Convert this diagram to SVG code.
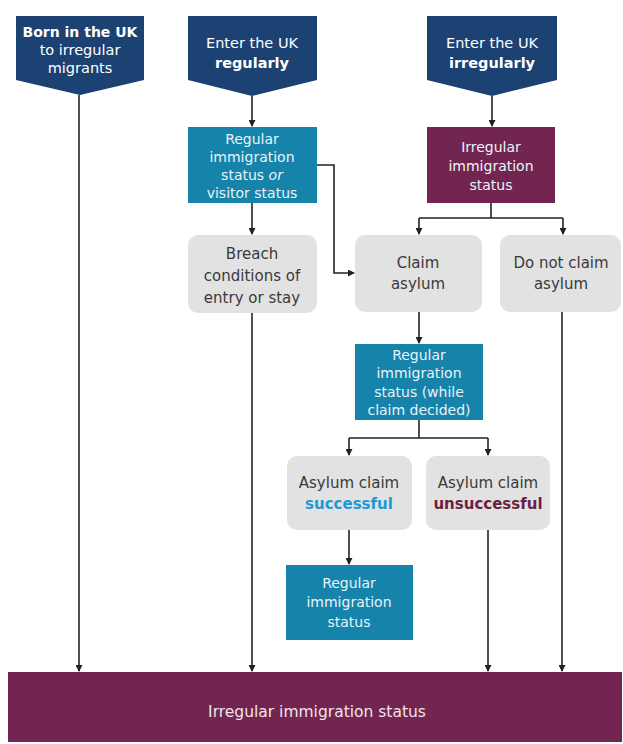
<svg xmlns="http://www.w3.org/2000/svg" width="623" height="744" viewBox="0 0 623 744">
<style>
.navy{fill:#1b4273}
.teal{fill:#1583aa}
.maroon{fill:#722550}
.grey{fill:#e2e2e2}
text{font-family:"DejaVu Sans","Liberation Sans",sans-serif;text-anchor:middle}
.wt{fill:#ffffff;font-size:14.5px}
.tt{fill:#e8f4f8;font-size:14px}
.gt{fill:#3a3a3a;font-size:15px}
.b{font-weight:bold}
.con{fill:none;stroke:#222222;stroke-width:1.6}
</style>
<defs>
<marker id="arr" markerUnits="userSpaceOnUse" markerWidth="7" markerHeight="7" refX="6" refY="3.5" orient="auto">
<path d="M0,0 L7,3.5 L0,7 z" fill="#222222"/>
</marker>
</defs>
<rect width="623" height="744" fill="#ffffff"/>

<g id="born">
<polygon class="navy" points="16,16 144,16 144,80 80,95 16,80"/>
<text class="wt b" x="80" y="37" font-size="14px" style="font-size:14px">Born in the UK</text>
<text class="wt" x="80" y="55">to irregular</text>
<text class="wt" x="80" y="73">migrants</text>
</g>
<g id="enter-regularly">
<polygon class="navy" points="188,16 317,16 317,80 252,96 188,80"/>
<text class="wt" x="252" y="48">Enter the UK</text>
<text class="wt b" x="252" y="68">regularly</text>
</g>
<g id="enter-irregularly">
<polygon class="navy" points="427,16 557,16 557,80 492,96 427,80"/>
<text class="wt" x="492" y="48">Enter the UK</text>
<text class="wt b" x="492" y="68">irregularly</text>
</g>

<g id="regular-or-visitor">
<rect class="teal" x="188" y="127" width="129" height="76"/>
<text class="tt" x="252" y="144">Regular</text>
<text class="tt" x="252" y="162">immigration</text>
<text class="tt" x="252" y="180">status <tspan font-style="italic">or</tspan></text>
<text class="tt" x="252" y="198">visitor status</text>
</g>
<g id="irregular-status">
<rect class="maroon" x="427" y="127" width="128" height="76"/>
<text class="tt" x="491" y="152">Irregular</text>
<text class="tt" x="491" y="171">immigration</text>
<text class="tt" x="491" y="190">status</text>
</g>

<g id="breach">
<rect class="grey" x="188" y="235" width="129" height="78" rx="10"/>
<text class="gt" x="252" y="259">Breach</text>
<text class="gt" x="252" y="281">conditions of</text>
<text class="gt" x="252" y="303">entry or stay</text>
</g>
<g id="claim-asylum">
<rect class="grey" x="355" y="235" width="127" height="77" rx="10"/>
<text class="gt" x="418" y="268">Claim</text>
<text class="gt" x="418" y="289">asylum</text>
</g>
<g id="not-claim">
<rect class="grey" x="500" y="235" width="121" height="77" rx="10"/>
<text class="gt" x="561" y="268">Do not claim</text>
<text class="gt" x="561" y="289">asylum</text>
</g>

<g id="regular-while">
<rect class="teal" x="355" y="344" width="128" height="76"/>
<text class="tt" x="419" y="360">Regular</text>
<text class="tt" x="419" y="378">immigration</text>
<text class="tt" x="419" y="397">status (while</text>
<text class="tt" x="419" y="415">claim decided)</text>
</g>

<g id="successful">
<rect class="grey" x="287" y="456" width="125" height="74" rx="10"/>
<text class="gt" x="349" y="488">Asylum claim</text>
<text class="gt b" x="349" y="509" style="fill:#1e9ad3">successful</text>
</g>
<g id="unsuccessful">
<rect class="grey" x="426" y="456" width="124" height="74" rx="10"/>
<text class="gt" x="488" y="488">Asylum claim</text>
<text class="gt b" x="488" y="509" style="fill:#6a1f43">unsuccessful</text>
</g>

<g id="regular-final">
<rect class="teal" x="286" y="565" width="127" height="75"/>
<text class="tt" x="349" y="588">Regular</text>
<text class="tt" x="349" y="607">immigration</text>
<text class="tt" x="349" y="627">status</text>
</g>

<g id="irregular-bar">
<rect class="maroon" x="8" y="672" width="614" height="70"/>
<text class="wt" x="317" y="717" style="fill:#f1e4ea;font-size:15.5px">Irregular immigration status</text>
</g>

<g id="connectors">
<path class="con" d="M79,95 V671" marker-end="url(#arr)"/>
<path class="con" d="M252,96 V126" marker-end="url(#arr)"/>
<path class="con" d="M252,203 V234" marker-end="url(#arr)"/>
<path class="con" d="M252,313 V671" marker-end="url(#arr)"/>
<path class="con" d="M317,165 H334 V273 H354" marker-end="url(#arr)"/>
<path class="con" d="M492,96 V126" marker-end="url(#arr)"/>
<path class="con" d="M491,203 V218"/>
<path class="con" d="M419,218 H563"/>
<path class="con" d="M419,218 V234" marker-end="url(#arr)"/>
<path class="con" d="M563,218 V234" marker-end="url(#arr)"/>
<path class="con" d="M419,312 V343" marker-end="url(#arr)"/>
<path class="con" d="M419,420 V438"/>
<path class="con" d="M349,438 H488"/>
<path class="con" d="M349,438 V455" marker-end="url(#arr)"/>
<path class="con" d="M488,438 V455" marker-end="url(#arr)"/>
<path class="con" d="M349,530 V564" marker-end="url(#arr)"/>
<path class="con" d="M488,530 V671" marker-end="url(#arr)"/>
<path class="con" d="M562,312 V671" marker-end="url(#arr)"/>
</g>
</svg>
